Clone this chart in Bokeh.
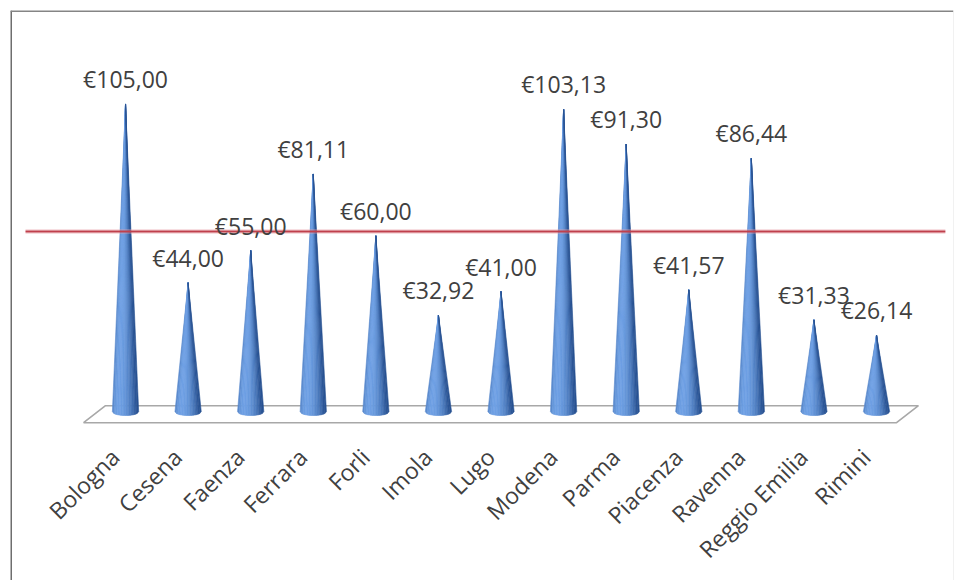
import numpy as np
from bokeh.plotting import figure
from bokeh.models import Range1d, LinearAxis, FixedTicker, ColumnDataSource, Span
from bokeh.core.properties import value
from bokeh.embed import file_html
from bokeh.resources import INLINE

# ---- data ----
cities = ["Bologna", "Cesena", "Faenza", "Ferrara", "Forli", "Imola", "Lugo",
          "Modena", "Parma", "Piacenza", "Ravenna", "Reggio Emilia", "Rimini"]
prices = [105.00, 44.00, 55.00, 81.11, 60.00, 32.92, 41.00,
          103.13, 91.30, 41.57, 86.44, 31.33, 26.14]
price_labels = ["€" + f"{v:.2f}".replace(".", ",") for v in prices]
average = sum(prices) / len(prices)

n = len(cities)
idx = list(range(n))

xr = Range1d(-1.838, 13.23)
yr = Range1d(-57.6, 136.9)

p = figure(width=955, height=580, x_range=xr, y_range=yr,
           output_backend="svg", toolbar_location=None,
           x_axis_location=None, y_axis_location=None,
           min_border_left=10, min_border_top=10, min_border_right=2, min_border_bottom=0)
p.grid.visible = False
p.background_fill_color = "white"
p.border_fill_color = "white"
p.outline_line_color = None

# chart border (left, top, faint right)
p.add_layout(Span(location=xr.start, dimension="height", line_color="#6e6e6e", line_width=3))
p.add_layout(Span(location=yr.end, dimension="width", line_color="#858585", line_width=3))
p.add_layout(Span(location=xr.end, dimension="height", line_color="#e4e4e4", line_width=1))

# ---- floor (3D base plane) ----
front_y = -3.75
back_y = 2.05
fl, fr = -0.67, (n - 1) + 0.32
depth_dx = 0.35
p.patch(x=[fl, fr, fr + depth_dx, fl + depth_dx], y=[front_y, front_y, back_y, back_y],
        fill_color="white", line_color="#a8a8a8", line_width=1.6)

# ---- cones ----
hw = 0.21      # half width of cone base (x units)
ell = 1.3      # depth of the elliptical base (y units)
N = 16
dark = np.array([40, 82, 146])
light = np.array([110, 160, 228])
xs, ys, cols = [], [], []
for i, v in zip(idx, prices):
    edges = np.linspace(-1, 1, N + 1)
    for k in range(N):
        a, b = edges[k], edges[k + 1]
        t = (a + b) / 2
        theta = np.arcsin(t)
        lum = max(0.0, np.cos(theta + 0.5)) ** 1.2
        c = dark + (light - dark) * lum
        ya = -ell * np.sqrt(max(0.0, 1 - a * a))
        yb = -ell * np.sqrt(max(0.0, 1 - b * b))
        xs.append([i, i + a * hw, i + b * hw])
        ys.append([v, ya, yb])
        cols.append("#%02x%02x%02x" % tuple(int(round(q)) for q in c))
p.patches(xs=xs, ys=ys, fill_color=cols, line_color=cols, line_width=0.6)

# ---- average line ----
x0 = xr.start + 0.24
x1 = xr.end - 0.13
p.line(x=[x0, x1], y=[average, average], line_color="#e8a0a8", line_width=5, line_alpha=0.35)
p.line(x=[x0, x1], y=[average, average], line_color="#c0404c", line_width=2)

# ---- value labels ----
src = ColumnDataSource(dict(x=idx, y=prices, t=price_labels))
p.text(x="x", y="y", text="t", source=src, text_align="center", text_baseline="middle",
       y_offset=-25, text_font=value("Open Sans"), text_font_size="23px",
       text_color="#404040")

# ---- category axis ----
p.extra_x_ranges = {"lab": Range1d(xr.start + 0.17, xr.end + 0.17)}
ax = LinearAxis(x_range_name="lab", ticker=FixedTicker(ticks=idx),
                major_label_overrides={i: c for i, c in zip(idx, cities)},
                major_label_orientation=np.pi / 4, fixed_location=front_y,
                axis_line_color=None, major_tick_line_color=None,
                minor_tick_line_color=None, major_label_standoff=24,
                major_label_text_font="Open Sans", major_label_text_font_size="23px",
                major_label_text_color="#404040")
p.add_layout(ax, "below")

open("out.html", "w").write(file_html(p, INLINE))
